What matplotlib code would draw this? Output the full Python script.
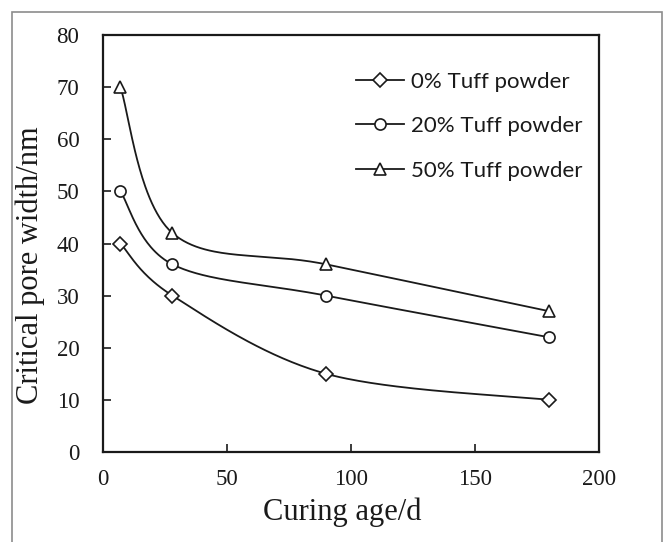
import numpy as np
import matplotlib.pyplot as plt
from matplotlib.patches import Rectangle
from matplotlib.lines import Line2D

days = [7, 28, 90, 180]
tuff0 = [40, 30, 15, 10]
tuff20 = [50, 36, 30, 22]
tuff50 = [70, 42, 36, 27]
labels = ['0% Tuff powder', '20% Tuff powder', '50% Tuff powder']
markers = ['D', 'o', '^']
msizes = [7, 8, 9]

xlim = (0, 200)
ylim = (0, 80)


def smooth(x, y, n=60):
    # spreadsheet-style smoothed line: cubic Bezier through the points,
    # control points from neighbouring points (Catmull-Rom, tension 1/6),
    # computed in axes-normalised units
    w, h = 4.96, 4.17
    px = (np.asarray(x, float) - xlim[0]) / (xlim[1] - xlim[0]) * w
    py = (np.asarray(y, float) - ylim[0]) / (ylim[1] - ylim[0]) * h
    P = np.column_stack([px, py])
    P = np.vstack([P[0], P, P[-1]])
    out = []
    for i in range(1, len(P) - 2):
        p0, p1, p2, p3 = P[i - 1], P[i], P[i + 1], P[i + 2]
        c1 = p1 + (p2 - p0) / 6
        c2 = p2 - (p3 - p1) / 6
        t = np.linspace(0, 1, n)[:, None]
        seg = ((1 - t) ** 3) * p1 + 3 * ((1 - t) ** 2) * t * c1 \
            + 3 * (1 - t) * t ** 2 * c2 + t ** 3 * p2
        out.append(seg)
    out = np.vstack(out)
    sx = out[:, 0] / w * (xlim[1] - xlim[0]) + xlim[0]
    sy = out[:, 1] / h * (ylim[1] - ylim[0]) + ylim[0]
    return sx, sy


fig = plt.figure(figsize=(6.71, 5.42), dpi=100)
ax = fig.add_axes([103 / 671, 1 - 452 / 542, 496 / 671, 417 / 542])

handles = []
for vals, lab, m, ms in zip([tuff0, tuff20, tuff50], labels, markers, msizes):
    sx, sy = smooth(days, vals)
    ax.plot(sx, sy, color='#1a1a1a', lw=1.3, zorder=2)
    ax.plot(days, vals, ls='none', marker=m, ms=ms, mfc='white',
            mec='#1a1a1a', mew=1.2, zorder=3)
    handles.append(Line2D([], [], color='#1a1a1a', lw=1.3, marker=m, ms=ms,
                          mfc='white', mec='#1a1a1a', mew=1.2, label=lab))

ax.set_xlim(*xlim)
ax.set_ylim(*ylim)
ax.set_xticks([0, 50, 100, 150, 200])
ax.set_yticks(range(0, 81, 10))
ax.tick_params(direction='in', length=6, width=1.2, labelsize=16.5,
               colors='#1a1a1a')
ax.tick_params(axis='y', pad=17)
ax.tick_params(axis='x', pad=12)
for lab in ax.get_xticklabels() + ax.get_yticklabels():
    lab.set_family('Liberation Serif')
for s in ax.spines.values():
    s.set_linewidth(1.6)
    s.set_color('#1a1a1a')

ax.set_xlabel('Curing age/d', family='Liberation Serif', fontsize=22,
              color='#1a1a1a')
ax.set_ylabel('Critical pore width/nm', family='Liberation Serif',
              fontsize=22, color='#1a1a1a')
ax.xaxis.set_label_coords(0.482, -0.11)
ax.yaxis.set_label_coords(-0.117, 0.448)

leg = ax.legend(handles=handles, loc='upper left',
                bbox_to_anchor=(0.47, 0.96), frameon=False,
                prop={'family': 'Lato', 'size': 16}, handlelength=2.15,
                labelspacing=1.1, handletextpad=0.3)
for t in leg.get_texts():
    t.set_color('#1a1a1a')

# light frame round the whole figure
fig.patches.append(Rectangle((12 / 671, -0.05), 650 / 671, 1 - 12 / 542 + 0.05,
                             transform=fig.transFigure, fill=False,
                             edgecolor='#8c8c8c', lw=1.2))

fig.savefig('out.png', dpi=100)
